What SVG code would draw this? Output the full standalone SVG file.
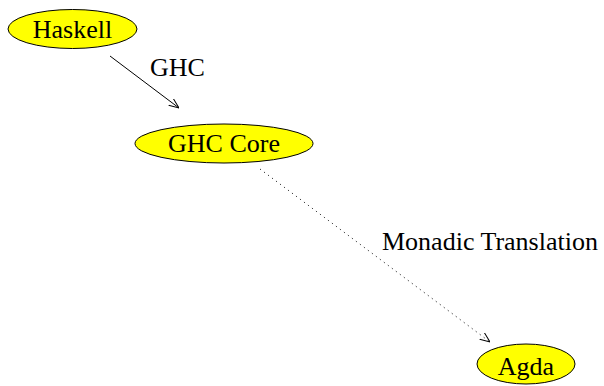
<svg xmlns="http://www.w3.org/2000/svg" width="604" height="386" viewBox="0 0 604 386">
  <style>
    .node ellipse { fill: #ffff00; stroke: #000; stroke-width: 1; }
    .lbl { font-family: 'Liberation Serif', serif; font-size: 26px; fill: #000; }
    .node text { text-anchor: middle; }
    .edge { fill: none; stroke: #000; stroke-width: 1; }
    .dotted { stroke-dasharray: 1 4; }
  </style>
  <defs>
    <marker id="arrow" viewBox="0 0 10 10" refX="10" refY="5" markerWidth="10" markerHeight="10" markerUnits="userSpaceOnUse" orient="auto">
      <path d="M0,1 L10,5 L0,9" fill="none" stroke="#000" stroke-width="1"/>
    </marker>
  </defs>
  <g id="connectors">
    <line class="edge" x1="110" y1="56" x2="179" y2="108" marker-end="url(#arrow)"/>
    <text class="lbl" x="150" y="76">GHC</text>
    <line class="edge dotted" x1="260" y1="169" x2="490" y2="342" marker-end="url(#arrow)"/>
    <text class="lbl" x="382" y="250">Monadic Translation</text>
  </g>
  <g id="haskell" class="node">
    <ellipse cx="72.5" cy="29" rx="64.5" ry="19.5"/>
    <text class="lbl" x="72.5" y="37.5">Haskell</text>
  </g>
  <g id="ghc-core" class="node">
    <ellipse cx="224" cy="143.5" rx="89" ry="19.5"/>
    <text class="lbl" x="224" y="151.5">GHC Core</text>
  </g>
  <g id="agda" class="node">
    <ellipse cx="526" cy="364" rx="49" ry="20"/>
    <text class="lbl" x="526" y="375">Agda</text>
  </g>
</svg>
